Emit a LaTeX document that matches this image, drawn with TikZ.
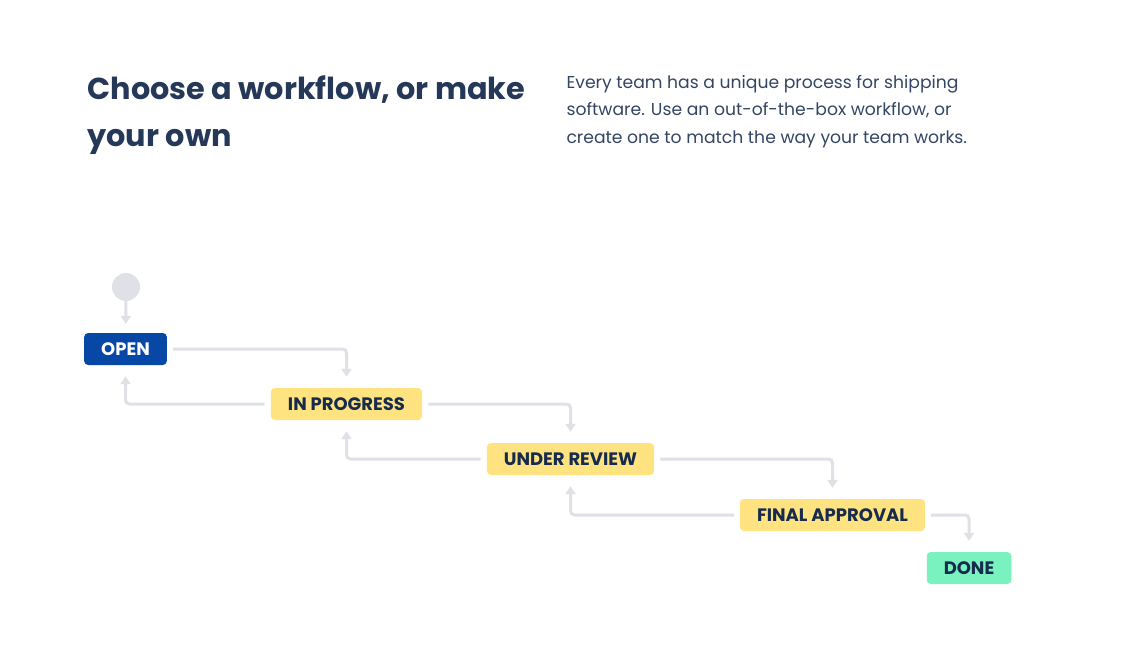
\documentclass[tikz,border=0pt]{standalone}
\usepackage{fontspec}
\setmainfont{Poppins}
\usetikzlibrary{arrows.meta}
\definecolor{navy}{HTML}{172B4D}
\definecolor{titlenavy}{HTML}{253858}
\definecolor{bodynavy}{HTML}{344563}
\definecolor{jblue}{HTML}{0747A6}
\definecolor{jyellow}{HTML}{FFE380}
\definecolor{jgreen}{HTML}{79F2C0}
\definecolor{linegray}{HTML}{DFE1E6}
\tikzset{
 status/.style={rounded corners=4pt,inner xsep=17pt,minimum height=32pt,
  font=\fontsize{18}{18}\selectfont\bfseries,text=navy},
 flow/.style={draw=linegray,line width=3pt,rounded corners=4pt,
  -{Triangle[width=10pt,length=8pt]},shorten <=6pt,shorten >=11pt}
}
\begin{document}
\begin{tikzpicture}[x=1pt,y=-1pt]
 \useasboundingbox[fill=white](0,0) rectangle (1148,670);
 \node[anchor=base west,align=left,text=titlenavy,font=\fontsize{30.3}{47}\selectfont\bfseries] (title) at (84,146) {Choose a workflow, or make\\your own};
 \node[anchor=base west,align=left,text=bodynavy,font=\fontsize{17.2}{27.5}\selectfont] (blurb) at (563,143) {Every team has a unique process for shipping\\software. Use an out-of-the-box workflow, or\\create one to match the way your team works.};
 \node[circle,fill=linegray,minimum size=28pt,inner sep=0pt] (start) at (126,287) {};
 \node[status,fill=jblue,text=white] (open) at (125.5,349) {OPEN};
 \node[status,fill=jyellow] (inprog) at (346.5,404) {IN PROGRESS};
 \node[status,fill=jyellow] (review) at (570.5,459) {UNDER REVIEW};
 \node[status,fill=jyellow] (final) at (832.5,515) {FINAL APPROVAL};
 \node[status,fill=jgreen] (done) at (969,568) {DONE};
 \draw[flow,shorten <=0pt,shorten >=9pt] (start) -- (open);
 \draw[flow] (open.east) -| (inprog.north);
 \draw[flow] (inprog.west) -| (open.south);
 \draw[flow] (inprog.east) -| (review.north);
 \draw[flow] (review.west) -| (inprog.south);
 \draw[flow] (review.east) -| (final.north);
 \draw[flow] (final.west) -| (review.south);
 \draw[flow] (final.east) -| (done.north);
\end{tikzpicture}
\end{document}
